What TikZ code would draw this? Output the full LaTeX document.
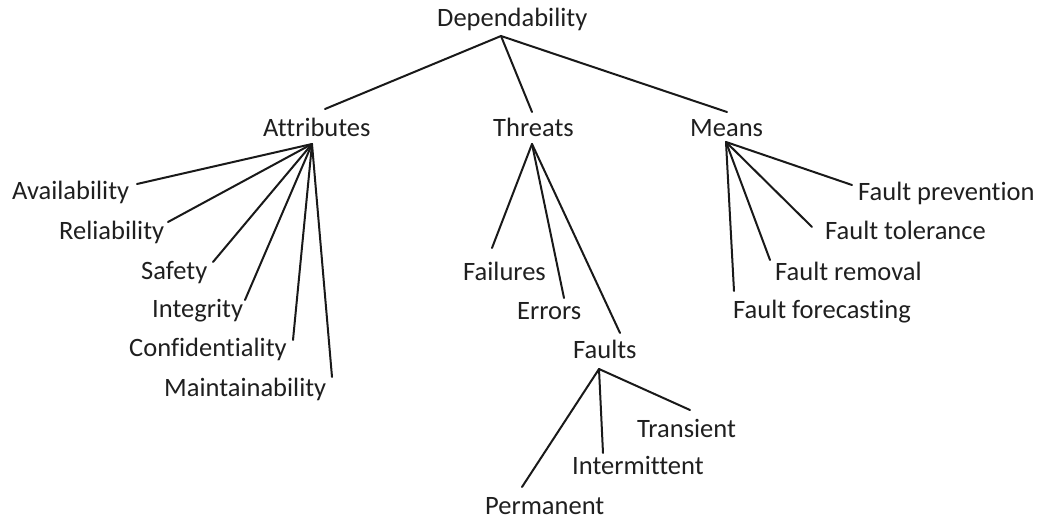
\documentclass[tikz,border=0pt]{standalone}
\usepackage{fontspec}
\setmainfont[RawFeature={-liga}]{Carlito}
\begin{document}
\begin{tikzpicture}[x=1pt,y=-1pt,
  lbl/.style={anchor=base west,inner sep=0pt,font=\fontsize{26.5}{30}\selectfont,text=black!88},
  edge/.style={draw=black!90,line width=2pt,line cap=round}]
\useasboundingbox (0,0) rectangle (1055,518);

% labels
\node[lbl] (dep) at (437,27) {Dependability};
\node[lbl] (attr) at (263,137) {Attributes};
\node[lbl] (thr) at (493,137) {Threats};
\node[lbl] (mea) at (690,137) {Means};

\node[lbl] (avail) at (12,200) {Availability};
\node[lbl] (rel) at (59,240) {Reliability};
\node[lbl] (saf) at (141,280) {Safety};
\node[lbl] (integ) at (152,318) {Integrity};
\node[lbl] (conf) at (129,357) {Confidentiality};
\node[lbl] (maint) at (164,397) {Maintainability};

\node[lbl] (fail) at (463,281) {Failures};
\node[lbl] (err) at (517,320) {Errors};
\node[lbl] (flt) at (573,359) {Faults};

\node[lbl] (perm) at (485,514) {Permanent};
\node[lbl] (inter) at (572,475) {Intermittent};
\node[lbl] (trans) at (637,437) {Transient};

\node[lbl] (fprev) at (858,201) {Fault prevention};
\node[lbl] (ftol) at (825,240) {Fault tolerance};
\node[lbl] (frem) at (775,281) {Fault removal};
\node[lbl] (ffore) at (733,319) {Fault forecasting};

% branch points and line ends
\coordinate (depHub) at (501,36);
\coordinate (attrTop) at (325,109);
\coordinate (thrTop) at (532,112);
\coordinate (meaTop) at (727,112);
\coordinate (attrHub) at (312,144);
\coordinate (thrHub) at (532,144);
\coordinate (meaHub) at (726,142);
\coordinate (fltHub) at (599,369);

\coordinate (availEnd) at (137,184);
\coordinate (relEnd) at (168,222);
\coordinate (safEnd) at (213,262);
\coordinate (integEnd) at (245,300);
\coordinate (confEnd) at (293,340);
\coordinate (maintEnd) at (332,377);

\coordinate (failEnd) at (492,248);
\coordinate (errEnd) at (564,298);
\coordinate (fltEnd) at (620,333);

\coordinate (permEnd) at (522,487);
\coordinate (interEnd) at (603,453);
\coordinate (transEnd) at (690,410);

\coordinate (fprevEnd) at (852,185);
\coordinate (ftolEnd) at (812,227);
\coordinate (fremEnd) at (770,260);
\coordinate (fforeEnd) at (734,291);

% connectors
\draw[edge] (attrTop) -- (depHub) -- (meaTop);
\draw[edge] (depHub) -- (thrTop);

\foreach \e in {availEnd,relEnd,safEnd,integEnd,confEnd,maintEnd}
  \draw[edge] (attrHub) -- (\e);
\foreach \e in {failEnd,errEnd,fltEnd}
  \draw[edge] (thrHub) -- (\e);
\foreach \e in {permEnd,interEnd,transEnd}
  \draw[edge] (fltHub) -- (\e);
\foreach \e in {fprevEnd,ftolEnd,fremEnd,fforeEnd}
  \draw[edge] (meaHub) -- (\e);
\end{tikzpicture}
\end{document}
